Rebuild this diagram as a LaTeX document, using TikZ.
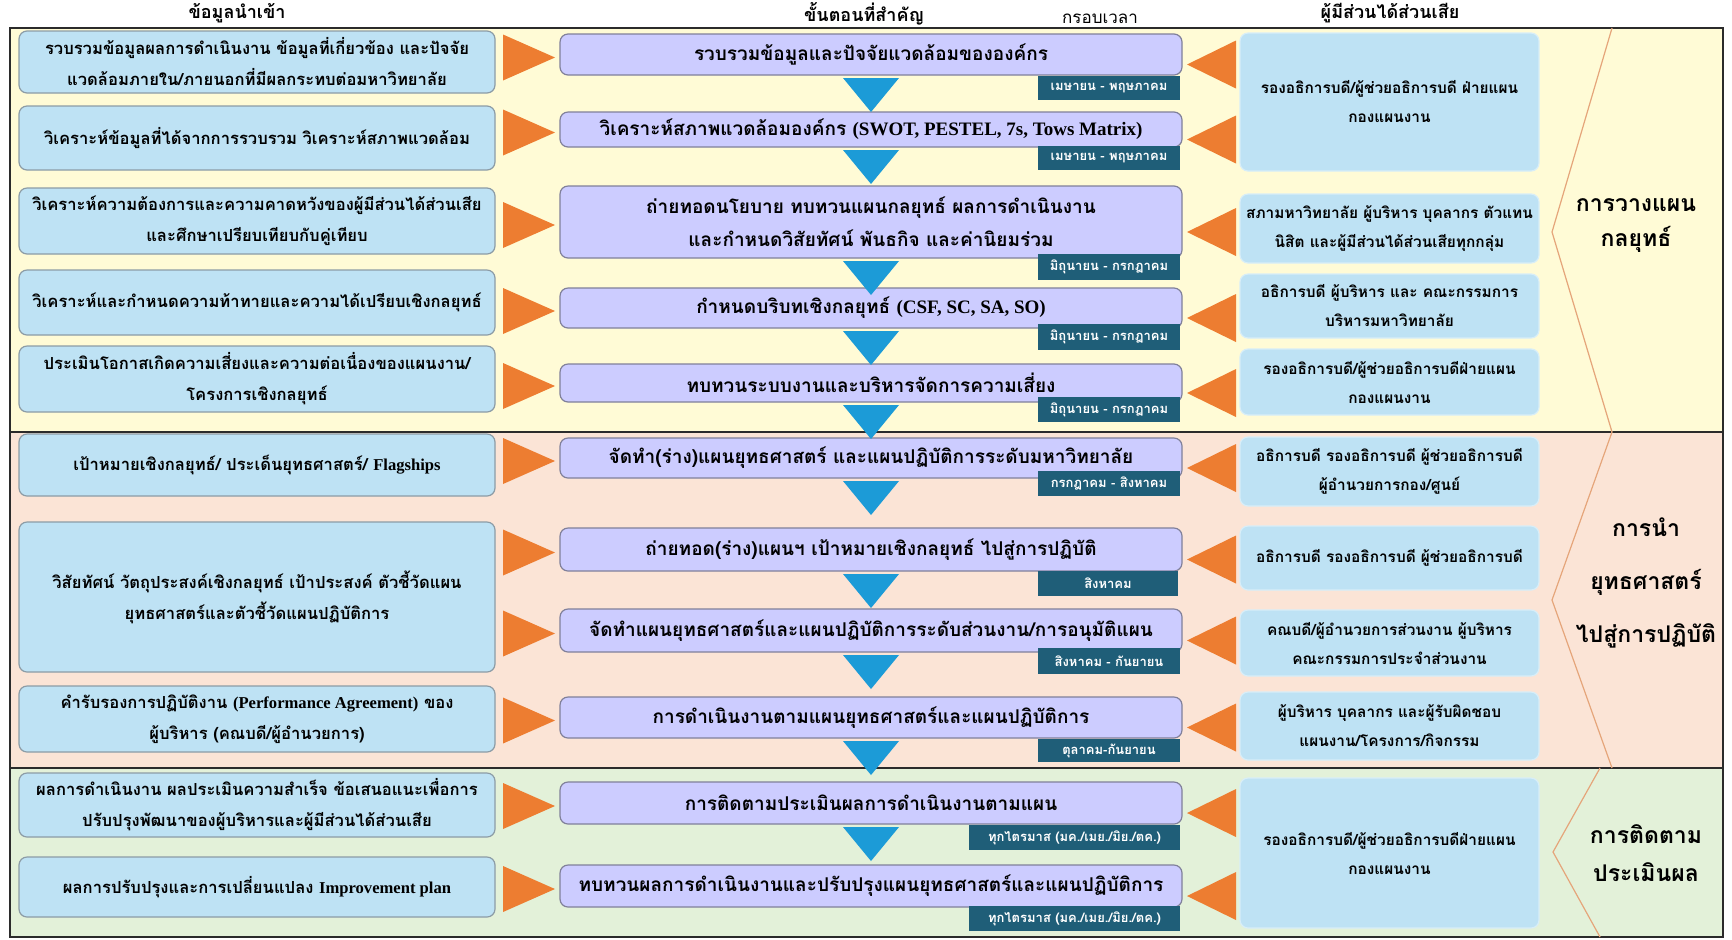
\documentclass[tikz,border=0pt]{standalone}
\usepackage{fontspec}
\usetikzlibrary{calc}
\newfontfamily\thai[Script=Thai]{Loma}
\newfontfamily\latf{Liberation Serif}
\newcommand\lat[1]{{\latf #1}}
\definecolor{bandY}{HTML}{FFFBD6}
\definecolor{bandP}{HTML}{FBE4D6}
\definecolor{bandG}{HTML}{E3F1D9}
\definecolor{lblue}{HTML}{BEE2F4}
\definecolor{lborder}{HTML}{8C9CA6}
\definecolor{lav}{HTML}{CCCCFF}
\definecolor{lavborder}{HTML}{80809A}
\definecolor{tagc}{HTML}{1F5E78}
\definecolor{barrow}{HTML}{1C9BD7}
\definecolor{oarrow}{HTML}{ED7D31}
\definecolor{chev}{HTML}{E5A57A}
\definecolor{framec}{HTML}{2B2B2B}
\newcommand\mkbox[7]{%
  \node[#6, minimum width={(#4-#2)*0.5pt}, minimum height={(#5-#3)*0.5pt}] (#1) at ({(#2+#4)/2},{(#3+#5)/2}) {#7};}
\begin{document}
\begin{tikzpicture}[x=0.5pt,y=-0.5pt,
  every node/.style={inner sep=0pt, outer sep=0pt},
  lbox/.style={draw=lborder, fill=lblue, line width=0.6pt, rounded corners=4pt, align=center,
    font=\thai\bfseries\fontsize{8.3}{15.5}\selectfont},
  mbox/.style={draw=lavborder, fill=lav, line width=0.6pt, rounded corners=4pt, align=center,
    font=\thai\bfseries\fontsize{9.5}{16.5}\selectfont},
  rbox/.style={draw=lblue!60!white, fill=lblue, line width=0.6pt, rounded corners=4pt, align=center,
    font=\thai\bfseries\fontsize{7.7}{14.5}\selectfont},
  tagbox/.style={fill=tagc, text=white, align=center, font=\thai\bfseries\fontsize{6.5}{8}\selectfont},
  hdr/.style={font=\thai\bfseries\fontsize{9}{11}\selectfont},
  biglab/.style={align=center, font=\thai\bfseries\fontsize{11.5}{#1}\selectfont},
  oarr/.style={fill=oarrow},
  barr/.style={fill=barrow},
  chevline/.style={draw=chev, line width=0.6pt}
]
\useasboundingbox (0,0) rectangle (1732,939);
% bands
\fill[bandY] (10,28) rectangle (1723,432);
\fill[bandP] (10,432) rectangle (1723,768);
\fill[bandG] (10,768) rectangle (1723,937);
\draw[framec, line width=0.8pt] (10,28) rectangle (1723,937);
\draw[framec, line width=0.8pt] (10,432) -- (1723,432);
\draw[framec, line width=0.8pt] (10,768) -- (1723,768);
% chevrons
\draw[chevline] (1612,28) -- (1552,232) -- (1612,432);
\draw[chevline] (1612,432) -- (1552,600) -- (1612,768);
\draw[chevline] (1600,768) -- (1553,852) -- (1600,937);
\node[biglab=17.5pt] (s1) at (1636,226) {การวางแผน\\กลยุทธ์};
\node[biglab=26.5pt] (s2) at (1646,583) {การนำ\\ยุทธศาสตร์\\ไปสู่การปฏิบัติ};
\node[biglab=19pt] (s3) at (1646,853) {การติดตาม\\ประเมินผล};
% headers
\node[hdr] (h1) at (237,13) {ข้อมูลนำเข้า};
\node[hdr] (h2) at (864,14) {ขั้นตอนที่สำคัญ};
\node[hdr, font=\thai\fontsize{8.5}{10}\selectfont] (h3) at (1100,19) {กรอบเวลา};
\node[hdr] (h4) at (1390,13) {ผู้มีส่วนได้ส่วนเสีย};
% left boxes
\mkbox{L1}{19}{31}{495}{93}{lbox}{รวบรวมข้อมูลผลการดำเนินงาน ข้อมูลที่เกี่ยวข้อง และปัจจัย\\แวดล้อมภายใน/ภายนอกที่มีผลกระทบต่อมหาวิทยาลัย}
\mkbox{L2}{19}{106}{495}{170}{lbox}{วิเคราะห์ข้อมูลที่ได้จากการรวบรวม วิเคราะห์สภาพแวดล้อม}
\mkbox{L3}{19}{188}{495}{254}{lbox}{วิเคราะห์ความต้องการและความคาดหวังของผู้มีส่วนได้ส่วนเสีย\\และศึกษาเปรียบเทียบกับคู่เทียบ}
\mkbox{L4}{19}{270}{495}{335}{lbox}{วิเคราะห์และกำหนดความท้าทายและความได้เปรียบเชิงกลยุทธ์}
\mkbox{L5}{19}{346}{495}{412}{lbox}{ประเมินโอกาสเกิดความเสี่ยงและความต่อเนื่องของแผนงาน/\\โครงการเชิงกลยุทธ์}
\mkbox{L6}{19}{434}{495}{496}{lbox}{เป้าหมายเชิงกลยุทธ์/ ประเด็นยุทธศาสตร์/ \lat{Flagships}}
\mkbox{L7}{19}{522}{495}{672}{lbox}{วิสัยทัศน์ วัตถุประสงค์เชิงกลยุทธ์ เป้าประสงค์ ตัวชี้วัดแผน\\ยุทธศาสตร์และตัวชี้วัดแผนปฏิบัติการ}
\mkbox{L8}{19}{686}{495}{752}{lbox}{คำรับรองการปฏิบัติงาน \lat{(Performance Agreement)} ของ\\ผู้บริหาร (คณบดี/ผู้อำนวยการ)}
\mkbox{L9}{19}{773}{495}{837}{lbox}{ผลการดำเนินงาน ผลประเมินความสำเร็จ ข้อเสนอแนะเพื่อการ\\ปรับปรุงพัฒนาของผู้บริหารและผู้มีส่วนได้ส่วนเสีย}
\mkbox{L10}{19}{857}{495}{917}{lbox}{ผลการปรับปรุงและการเปลี่ยนแปลง \lat{Improvement plan}}
% middle boxes
\mkbox{m1}{560}{34}{1182}{75}{mbox}{รวบรวมข้อมูลและปัจจัยแวดล้อมขององค์กร}
\mkbox{m2}{560}{112}{1182}{147}{mbox}{วิเคราะห์สภาพแวดล้อมองค์กร \lat{(SWOT, PESTEL, 7s, Tows Matrix)}}
\mkbox{m3}{560}{186}{1182}{258}{mbox}{ถ่ายทอดนโยบาย ทบทวนแผนกลยุทธ์ ผลการดำเนินงาน\\และกำหนดวิสัยทัศน์ พันธกิจ และค่านิยมร่วม}
\mkbox{m4}{560}{288}{1182}{328}{mbox}{กำหนดบริบทเชิงกลยุทธ์ \lat{(CSF, SC, SA, SO)}}
\mkbox{m5}{560}{364}{1182}{402}{mbox}{ทบทวนระบบงานและบริหารจัดการความเสี่ยง}
\mkbox{m6}{560}{438}{1182}{478}{mbox}{จัดทำ(ร่าง)แผนยุทธศาสตร์ และแผนปฏิบัติการระดับมหาวิทยาลัย}
\mkbox{m7}{560}{528}{1182}{571}{mbox}{ถ่ายทอด(ร่าง)แผนฯ เป้าหมายเชิงกลยุทธ์ ไปสู่การปฏิบัติ}
\mkbox{m8}{560}{609}{1182}{652}{mbox}{จัดทำแผนยุทธศาสตร์และแผนปฏิบัติการระดับส่วนงาน/การอนุมัติแผน}
\mkbox{m9}{560}{697}{1182}{738}{mbox}{การดำเนินงานตามแผนยุทธศาสตร์และแผนปฏิบัติการ}
\mkbox{m10}{560}{782}{1182}{824}{mbox}{การติดตามประเมินผลการดำเนินงานตามแผน}
\mkbox{m11}{560}{865}{1182}{907}{mbox}{ทบทวนผลการดำเนินงานและปรับปรุงแผนยุทธศาสตร์และแผนปฏิบัติการ}
% orange arrows
\foreach \i in {1,...,11}{
  \fill[oarr] ($(m\i.west)+(-57,-20)$) -- ($(m\i.west)+(-57,26)$) -- ($(m\i.west)+(-5,3)$) -- cycle;
  \fill[oarr] ($(m\i.east)+(5,10)$) -- ($(m\i.east)+(54,-14)$) -- ($(m\i.east)+(54,34)$) -- cycle;
}
% blue arrows
\foreach \i in {1,...,10}{
  \fill[barr] ($(m\i.south)+(-28,3)$) -- ($(m\i.south)+(28,3)$) -- ($(m\i.south)+(0,37)$) -- cycle;
}
% time tags
\mkbox{T1}{1038}{76}{1180}{100}{tagbox}{เมษายน - พฤษภาคม}
\mkbox{T2}{1038}{146}{1180}{170}{tagbox}{เมษายน - พฤษภาคม}
\mkbox{T3}{1038}{254}{1180}{280}{tagbox}{มิถุนายน - กรกฎาคม}
\mkbox{T4}{1038}{324}{1180}{350}{tagbox}{มิถุนายน - กรกฎาคม}
\mkbox{T5}{1038}{397}{1180}{422}{tagbox}{มิถุนายน - กรกฎาคม}
\mkbox{T6}{1038}{471}{1180}{496}{tagbox}{กรกฎาคม - สิงหาคม}
\mkbox{T7}{1038}{571}{1178}{596}{tagbox}{สิงหาคม}
\mkbox{T8}{1038}{648}{1180}{674}{tagbox}{สิงหาคม - กันยายน}
\mkbox{T9}{1038}{739}{1180}{762}{tagbox}{ตุลาคม-กันยายน}
\mkbox{T10}{969}{825}{1180}{850}{tagbox}{ทุกไตรมาส (มค./เมย./มิย./ตค.)}
\mkbox{T11}{969}{906}{1180}{931}{tagbox}{ทุกไตรมาส (มค./เมย./มิย./ตค.)}
% right boxes
\mkbox{R1}{1240}{33}{1539}{171}{rbox}{รองอธิการบดี/ผู้ช่วยอธิการบดี ฝ่ายแผน\\กองแผนงาน}
\mkbox{R2}{1240}{194}{1539}{263}{rbox}{สภามหาวิทยาลัย ผู้บริหาร บุคลากร ตัวแทน\\นิสิต และผู้มีส่วนได้ส่วนเสียทุกกลุ่ม}
\mkbox{R3}{1240}{274}{1539}{338}{rbox}{อธิการบดี ผู้บริหาร และ คณะกรรมการ\\บริหารมหาวิทยาลัย}
\mkbox{R4}{1240}{349}{1539}{415}{rbox}{รองอธิการบดี/ผู้ช่วยอธิการบดีฝ่ายแผน\\กองแผนงาน}
\mkbox{R5}{1240}{437}{1539}{506}{rbox}{อธิการบดี รองอธิการบดี ผู้ช่วยอธิการบดี\\ผู้อำนวยการกอง/ศูนย์}
\mkbox{R6}{1240}{526}{1539}{590}{rbox}{อธิการบดี รองอธิการบดี ผู้ช่วยอธิการบดี}
\mkbox{R7}{1240}{610}{1539}{676}{rbox}{คณบดี/ผู้อำนวยการส่วนงาน ผู้บริหาร\\คณะกรรมการประจำส่วนงาน}
\mkbox{R8}{1240}{692}{1539}{760}{rbox}{ผู้บริหาร บุคลากร และผู้รับผิดชอบ\\แผนงาน/โครงการ/กิจกรรม}
\mkbox{R9}{1240}{778}{1539}{928}{rbox}{รองอธิการบดี/ผู้ช่วยอธิการบดีฝ่ายแผน\\กองแผนงาน}
\end{tikzpicture}
\end{document}
